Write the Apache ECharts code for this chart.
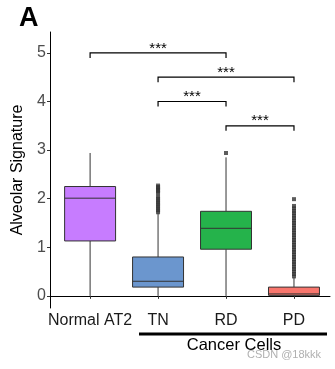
<!DOCTYPE html>
<html><head><meta charset="utf-8">
<script src="https://cdn.jsdelivr.net/npm/echarts@6/dist/echarts.min.js"></script>
<style>html,body{margin:0;padding:0;background:#fff}#c{width:335px;height:369px}</style>
</head><body><div id="c"></div>
<script>
const categories = ['Normal AT2', 'TN', 'RD', 'PD'];
const boxColors = ['#C77CFF', '#6B96CE', '#25B34B', '#F8766D'];
// [low, q1, median, q3, high]
const boxStats = [
  [0.00, 1.13, 2.01, 2.25, 2.94],
  [0.00, 0.18, 0.30, 0.80, 1.70],
  [0.00, 0.96, 1.39, 1.74, 2.85],
  [0.00, 0.01, 0.04, 0.18, 0.38]
];
const outliersTN = [2.27, 2.24, 2.21, 2.18, 2.15, 2.11, 2.04, 2.00, 1.96, 1.92, 1.88, 1.84, 1.80, 1.76, 1.72];
const outliersRD = [2.94];
const outliersPD = [1.99, 1.85, 1.80, 1.75, 1.70, 1.65, 1.60, 1.55, 1.50, 1.45, 1.40, 1.35, 1.30, 1.25, 1.20, 1.15, 1.10, 1.05, 1.00, 0.95, 0.90, 0.85, 0.80, 0.75, 0.70, 0.65, 0.60, 0.55, 0.50, 0.45, 0.40];
// [fromCategoryIndex, toCategoryIndex, y, label]
const brackets = [
  [0, 2, 5.0, '***'],
  [1, 3, 4.5, '***'],
  [1, 2, 4.0, '***'],
  [2, 3, 3.5, '***']
];
const yTicks = [0, 1, 2, 3, 4, 5];

const outlierData = [];
outliersTN.forEach(v => outlierData.push([2, v]));
outliersRD.forEach(v => outlierData.push([3, v]));
outliersPD.forEach(v => outlierData.push([4, v]));

const FONT = 'Liberation Sans, Arial, sans-serif';
const chart = echarts.init(document.getElementById('c'), null, {renderer: 'canvas'});
const boxHalf = 0.375;
chart.setOption({
  animation: false,
  grid: {left: 50, right: 5, top: 32, bottom: 61, containLabel: false},
  xAxis: {
    type: 'value', min: 0.41, max: 4.53,
    splitLine: {show: false},
    axisLine: {show: true, lineStyle: {color: '#000', width: 1}},
    axisTick: {show: true, length: 3, customValues: [1, 2, 3, 4], lineStyle: {color: '#333'}},
    axisLabel: {show: true, customValues: [1, 2, 3, 4], margin: 5,
      formatter: v => categories[Math.round(v) - 1] || '',
      fontSize: 16, color: '#1a1a1a', fontFamily: FONT}
  },
  yAxis: {
    type: 'value', min: -0.25, max: 5.43,
    name: 'Alveolar Signature', nameLocation: 'middle', nameGap: 24, nameRotate: 90,
    nameTextStyle: {fontSize: 16, color: '#000', fontFamily: FONT},
    splitLine: {show: false},
    axisLine: {show: true, lineStyle: {color: '#000', width: 1}},
    axisTick: {show: true, length: 3, customValues: yTicks, lineStyle: {color: '#333'}},
    axisLabel: {show: true, customValues: yTicks, margin: 4, fontSize: 16, color: '#4d4d4d', fontFamily: FONT}
  },
  series: [
    {
      type: 'custom',
      data: boxStats.map((s, i) => [i + 1].concat(s)),
      renderItem: function (params, api) {
        const x = api.value(0);
        const i = params.dataIndex;
        const pLow = api.coord([x, api.value(1)]);
        const pQ1 = api.coord([x, api.value(2)]);
        const pMed = api.coord([x, api.value(3)]);
        const pQ3 = api.coord([x, api.value(4)]);
        const pHigh = api.coord([x, api.value(5)]);
        const left = api.coord([x - boxHalf, 0])[0];
        const right = api.coord([x + boxHalf, 0])[0];
        const st = {stroke: '#333', lineWidth: 1};
        return {
          type: 'group',
          children: [
            {type: 'line', shape: {x1: pLow[0], y1: pLow[1], x2: pQ1[0], y2: pQ1[1]}, style: st},
            {type: 'line', shape: {x1: pQ3[0], y1: pQ3[1], x2: pHigh[0], y2: pHigh[1]}, style: st},
            {type: 'rect', shape: {x: left, y: pQ3[1], width: right - left, height: pQ1[1] - pQ3[1]},
              style: {fill: boxColors[i], stroke: '#333', lineWidth: 1}},
            {type: 'line', shape: {x1: left, y1: pMed[1], x2: right, y2: pMed[1]}, style: st}
          ]
        };
      },
      z: 2
    },
    {
      type: 'scatter',
      data: outlierData,
      symbol: 'rect', symbolSize: [4, 4],
      itemStyle: {color: '#333'},
      z: 3
    },
    {
      type: 'custom',
      data: brackets.map(b => [b[0] + 1, b[1] + 1, b[2]]),
      renderItem: function (params, api) {
        const p1 = api.coord([api.value(0), api.value(2)]);
        const p2 = api.coord([api.value(1), api.value(2)]);
        const d = 5;
        const label = brackets[params.dataIndex][3];
        return {
          type: 'group',
          children: [
            {type: 'polyline', shape: {points: [[p1[0], p1[1] + d], [p1[0], p1[1]], [p2[0], p2[1]], [p2[0], p2[1] + d]]},
              style: {stroke: '#000', lineWidth: 1.2, fill: null}},
            {type: 'text', x: (p1[0] + p2[0]) / 2, y: p1[1] + 3,
              style: {text: label, fill: '#000', fontSize: 15, align: 'center', verticalAlign: 'bottom', fontFamily: FONT}}
          ]
        };
      },
      z: 4
    }
  ],
  graphic: [
    {type: 'text', left: 19, top: 5, style: {text: 'A', fontSize: 27, fontWeight: 'bold', fill: '#000', fontFamily: FONT}},
    {type: 'rect', shape: {x: 139, y: 332.5, width: 188, height: 3}, style: {fill: '#000'}},
    {type: 'text', x: 234, y: 345, style: {text: 'Cancer Cells', fontSize: 16.5, fill: '#000', align: 'center',
      verticalAlign: 'middle', fontFamily: FONT}},
    {type: 'text', x: 284, y: 355, style: {text: 'CSDN @18kkk', fontSize: 11, fill: '#b0b0b0', align: 'center',
      verticalAlign: 'middle', fontFamily: FONT}, z: 10}
  ]
});
</script></body></html>
